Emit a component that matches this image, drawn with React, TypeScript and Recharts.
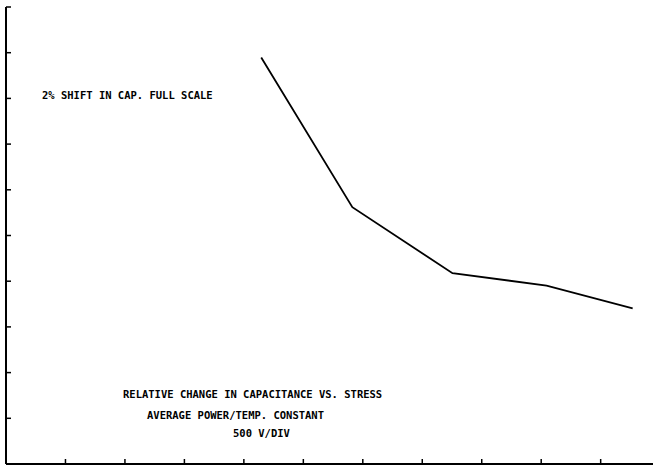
import { LineChart, Line, XAxis, YAxis } from "recharts";

// stress in volts (500 V/div), shift in capacitance in % (2% full scale)
const stressVolts = [2146, 2912, 3754, 4545, 5269];
const capShiftPct = [1.779, 1.124, 0.835, 0.781, 0.681];

const xTicks = [0, 500, 1000, 1500, 2000, 2500, 3000, 3500, 4000, 4500, 5000];
const yTicks = [0, 0.2, 0.4, 0.6, 0.8, 1.0, 1.2, 1.4, 1.6, 1.8, 2.0];

const notes = [
  { text: "2% SHIFT IN CAP. FULL SCALE", x: 42, y: 95 },
  { text: "RELATIVE CHANGE IN CAPACITANCE VS. STRESS", x: 123, y: 394 },
  { text: "AVERAGE POWER/TEMP. CONSTANT", x: 147, y: 415 },
  { text: "500 V/DIV", x: 233, y: 433 },
];

const data = stressVolts.map((v, i) => ({ v, shift: capShiftPct[i] }));

export default function App() {
  return (
    <div
      style={{
        position: "absolute",
        left: 0,
        top: 0,
        width: 653,
        height: 465,
        background: "#fff",
      }}
    >
      <LineChart
        width={653}
        height={465}
        data={data}
        margin={{ top: 7, right: 0, left: 6, bottom: 1 }}
      >
        <XAxis
          dataKey="v"
          type="number"
          domain={[0, 5440]}
          ticks={xTicks}
          height={1}
          mirror
          tickSize={5}
          tickFormatter={() => ""}
          axisLine={{ stroke: "#000", strokeWidth: 2 }}
          tickLine={{ stroke: "#000", strokeWidth: 1.5 }}
        />
        <YAxis
          type="number"
          domain={[0, 2]}
          ticks={yTicks}
          width={1}
          mirror
          tickSize={5}
          tickFormatter={() => ""}
          axisLine={{ stroke: "#000", strokeWidth: 2 }}
          tickLine={{ stroke: "#000", strokeWidth: 1.5 }}
        />
        <Line
          dataKey="shift"
          type="linear"
          stroke="#000"
          strokeWidth={1.8}
          dot={false}
          isAnimationActive={false}
        />
      </LineChart>
      {notes.map((n) => (
        <div
          key={n.text}
          style={{
            position: "absolute",
            left: n.x,
            top: n.y,
            transform: "translateY(-50%)",
            fontFamily: "'DejaVu Sans Mono', monospace",
            fontWeight: 700,
            fontSize: 10.5,
            color: "#000",
            whiteSpace: "pre",
            lineHeight: 1,
          }}
        >
          {n.text}
        </div>
      ))}
    </div>
  );
}
